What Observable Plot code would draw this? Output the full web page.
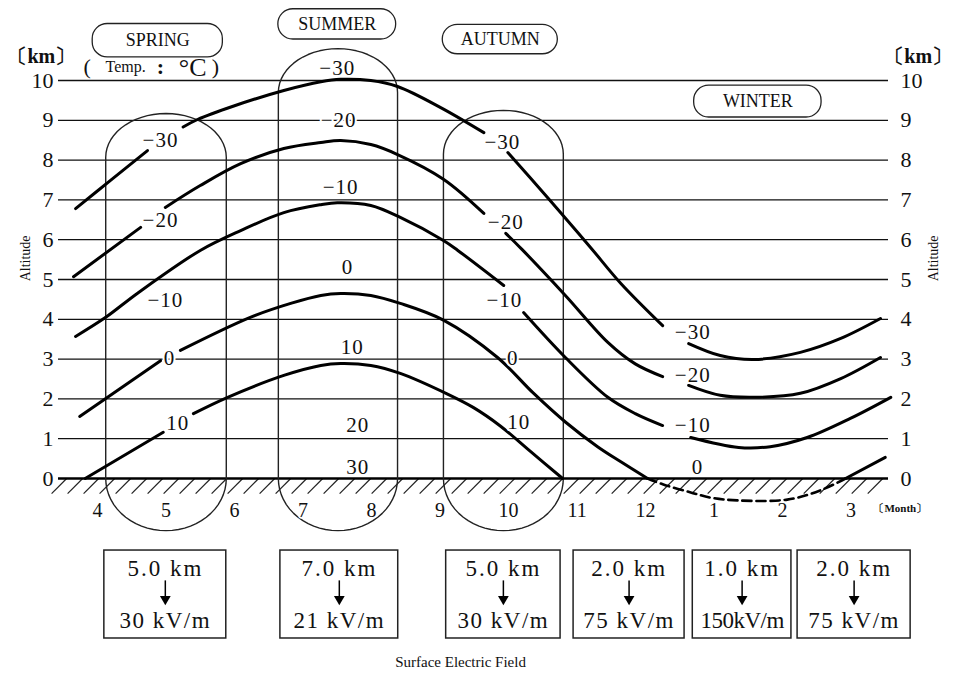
<!DOCTYPE html>
<html><head><meta charset="utf-8">
<script src="https://cdn.jsdelivr.net/npm/d3@7"></script>
<script src="https://cdn.jsdelivr.net/npm/@observablehq/plot@0.6"></script>
<style>body{margin:0;background:#fff}</style>
</head><body><div id="chart"></div>
<script>
// ---- data ----
const monthLabels = ["4","5","6","7","8","9","10","11","12","1","2","3"]; // month index 0 = April
const altitudeTicks = [0,1,2,3,4,5,6,7,8,9,10];

// isotherms: [segment, month index, altitude km]
const isoMinus30 = [
 [0,-0.32,6.78],[0,0.19,7.49],[0,0.73,8.24],
 [1,1.25,8.83],[1,1.46,9.02],[1,1.99,9.36],[1,2.72,9.75],[1,3.26,9.97],[1,3.55,10.03],[1,3.99,10.0],[1,4.38,9.85],[1,5.01,9.32],[1,5.64,8.69],
 [2,5.99,8.19],[2,6.32,7.55],[2,6.8,6.6],[2,7.2,5.8],[2,7.64,4.9],[2,8.25,3.84],
 [3,8.63,3.39],[3,9.09,3.09],[3,9.58,2.99],[3,10.26,3.17],[3,10.85,3.52],[3,11.43,4.02]
];
const isoMinus20 = [
 [0,-0.35,5.07],[0,0.63,6.31],
 [1,0.99,6.81],[1,1.5,7.36],[1,2.09,7.91],[1,2.72,8.29],[1,3.26,8.44],[1,3.55,8.49],[1,3.99,8.39],[1,4.38,8.14],[1,5.05,7.52],[1,5.64,6.66],
 [2,5.96,6.16],[2,6.2,5.75],[2,6.83,4.6],[2,7.45,3.42],[2,7.85,2.88],[2,8.25,2.56],
 [3,8.63,2.34],[3,9.09,2.09],[3,9.58,2.04],[3,10.26,2.14],[3,10.85,2.51],[3,11.43,3.04]
];
const isoMinus10 = [
 [0,-0.32,3.57],[0,0.12,4.05],[0,0.58,4.65],[0,1.5,5.73],[0,2.09,6.23],[0,2.72,6.68],[0,3.26,6.88],[0,3.5,6.93],[0,3.99,6.86],[0,4.42,6.56],[0,5.05,5.98],[0,5.26,5.73],[0,5.93,4.85],
 [1,6.22,4.17],[1,6.83,3.04],[1,7.45,2.04],[1,7.85,1.63],[1,8.25,1.33],
 [2,8.66,1.03],[2,9.36,0.78],[2,9.82,0.8],[2,10.36,1.03],[2,10.99,1.51],[2,11.58,2.04]
];
const isoZero = [
 [0,-0.26,1.56],[0,0.92,2.96],
 [1,1.21,3.22],[1,2.23,4.05],[1,2.82,4.4],[1,3.26,4.6],[1,3.55,4.65],[1,3.99,4.6],[1,4.42,4.4],[1,5.05,3.98],[1,5.84,3.04],[1,6.36,2.15],[1,6.83,1.42],[1,7.3,0.8],[1,7.64,0.42],[1,8.03,0],
 [2,10.92,0],[2,11.5,0.53]
];
const isoZeroBelowGround = [
 [8.03,0],[8.26,-0.15],[8.66,-0.35],[8.95,-0.48],[9.34,-0.55],[10.07,-0.53],[10.55,-0.3],[10.92,0]
];
const isoPlus10 = [
 [0,-0.18,0],[0,0.96,1.16],
 [1,1.4,1.63],[1,1.9,2.04],[1,2.72,2.59],[1,3.26,2.84],[1,3.55,2.89],[1,3.99,2.84],[1,4.42,2.64],[1,5.11,2.12],[1,5.49,1.78],[1,5.88,1.32],[1,6.32,0.68],[1,6.79,0]
];

// temperature labels: [text, month index, km]
const tempLabels = [
 ["\u221230",0.92,8.49],["\u221220",0.92,6.48],["\u221210",0.99,4.47],["0",1.05,3.02],["10",1.17,1.38],
 ["\u221230",3.5,10.3],["\u221220",3.52,9.0],["\u221210",3.55,7.31],["0",3.65,5.3],["10",3.72,3.29],["20",3.8,1.33],["30",3.8,0.28],
 ["\u221230",5.91,8.44],["\u221220",5.96,6.43],["\u221210",5.94,4.47],["0",6.06,3.02],["10",6.15,1.41],
 ["\u221230",8.69,3.67],["\u221220",8.69,2.59],["\u221210",8.69,1.33],["0",8.76,0.28]
];

// seasons
const seasonNames = ["SPRING","SUMMER","AUTUMN","WINTER"];
const seasonLabelPos = [[0.88,11.0],[3.5,11.41],[5.88,11.03],[9.64,9.47]];
const seasonPillHalfWidth = [0.95,0.86,0.84,0.93];
const seasonPillHalfHeight = [0.42,0.38,0.37,0.4];
// capsule spans (month index) and top altitude (km) for spring, summer, autumn
const capsuleLeft = [0.12,2.64,5.05];
const capsuleRight = [1.88,4.38,6.8];
const capsuleTop = [9.17,10.8,9.25];

// surface electric field boxes
const boxHeights = ["5.0 km","7.0 km","5.0 km","2.0 km","1.0 km","2.0 km"];
const boxFields = ["30 kV/m","21 kV/m","30 kV/m","75 kV/m","150kV/m","75 kV/m"];
const boxLeft = [0.1,2.67,5.09,6.95,8.69,10.22];
const boxRight = [1.88,4.39,6.76,8.57,10.13,11.87];

// ---- build tables ----
const isoRows = [];
[["m30",isoMinus30],["m20",isoMinus20],["m10",isoMinus10],["z0",isoZero],["p10",isoPlus10]].forEach(([k,arr]) =>
  arr.forEach(([s,m,km]) => isoRows.push({key:k+"-"+s, m, km})));
const belowRows = isoZeroBelowGround.map(([m,km]) => ({m,km}));
const labelRows = tempLabels.map(([t,m,km]) => ({t,m,km}));

const capDepth = 1.1, bottomDepth = 1.31;
const capsuleRows = [];
capsuleLeft.forEach((l,i) => {
  const r = capsuleRight[i], cx = (l+r)/2, rx = (r-l)/2, cc = capsuleTop[i]-capDepth;
  const pts = [];
  for (let k=0;k<=30;k++){const a=Math.PI-Math.PI*k/30; pts.push({s:i,m:cx+rx*Math.cos(a),km:cc+capDepth*Math.sin(a)});}
  for (let k=0;k<=30;k++){const a=-Math.PI*k/30; pts.push({s:i,m:cx+rx*Math.cos(a),km:bottomDepth*Math.sin(a)});}
  pts.push(pts[0]);
  capsuleRows.push(...pts);
});
const pillRows = seasonNames.map((n,i)=>({n, x1:seasonLabelPos[i][0]-seasonPillHalfWidth[i], x2:seasonLabelPos[i][0]+seasonPillHalfWidth[i],
  y1:seasonLabelPos[i][1]-seasonPillHalfHeight[i], y2:seasonLabelPos[i][1]+seasonPillHalfHeight[i], m:seasonLabelPos[i][0], km:seasonLabelPos[i][1]}));
const hatch = d3.range(-0.45, 11.6, 0.2336);
const boxRows = boxHeights.map((h,i)=>({h, f:boxFields[i], x1:boxLeft[i], x2:boxRight[i], c:(boxLeft[i]+boxRight[i])/2}));
const monthRows = monthLabels.map((t,i)=>({t,i}));

const serif = "Liberation Serif, Times New Roman, serif";
const chart = Plot.plot({
  width: 953, height: 675,
  marginLeft: 58, marginRight: 65, marginTop: 80, marginBottom: 197,
  x: {domain: [-0.5693, 11.547], axis: null},
  y: {domain: [0, 10], axis: null},
  style: {fontFamily: serif, background: "white", color: "#111"},
  marks: [
    Plot.ruleY(altitudeTicks.filter(d=>d>0), {stroke: "#111", strokeWidth: 1.3}),
    Plot.link(hatch, {x1: d=>d, y1: 0, x2: d=>d-0.22, y2: -0.38, stroke: "#222", strokeWidth: 1.2}),
    Plot.ruleY([0], {stroke: "#000", strokeWidth: 2.6}),
    Plot.line(capsuleRows, {x: "m", y: "km", z: "s", stroke: "#222", strokeWidth: 1.4}),
    Plot.line(isoRows, {x: "m", y: "km", z: "key", curve: "catmull-rom", stroke: "#000", strokeWidth: 3}),
    Plot.line(belowRows, {x: "m", y: "km", curve: "catmull-rom", stroke: "#000", strokeWidth: 2.6, strokeDasharray: "9,5"}),
    Plot.text(labelRows, {x: "m", y: "km", text: "t", fontSize: 21, fontFamily: serif, fill: "#111", stroke: "white", strokeWidth: 4, paintOrder: "stroke", className: "templabel"}),
    Plot.axisY(altitudeTicks, {anchor: "left", tickSize: 0, tickPadding: 5, fontSize: 22, fontFamily: serif, label: null}),
    Plot.axisY(altitudeTicks, {anchor: "right", tickSize: 0, tickPadding: 12, fontSize: 22, fontFamily: serif, label: null}),
    Plot.text(monthRows, {x: "i", y: -0.8, text: "t", fontSize: 20, fontFamily: serif, fill: "#111", stroke: "white", strokeWidth: 3, paintOrder: "stroke"}),
    Plot.text(["\u3014Month\u3015"], {x: 11.72, y: -0.75, text: d=>d, fontSize: 11, fontFamily: serif, fontWeight: "bold"}),
    Plot.rect(pillRows, {x1: "x1", x2: "x2", y1: "y1", y2: "y2", rx: 15, fill: "white", stroke: "#222", strokeWidth: 1.3}),
    Plot.text(pillRows, {x: "m", y: "km", text: "n", fontSize: 18, fontFamily: serif}),
    Plot.text(["("], {x: -0.15, y: 10.33, text: d=>d, fontSize: 22}),
    Plot.text(["Temp."], {x: 0.41, y: 10.33, text: d=>d, fontSize: 16}),
    Plot.text([":"], {x: 0.92, y: 10.33, text: d=>d, fontSize: 22, fontWeight: "bold"}),
    Plot.text(["\u00B0C"], {x: 1.39, y: 10.33, text: d=>d, fontSize: 26}),
    Plot.text([")"], {x: 1.72, y: 10.33, text: d=>d, fontSize: 22}),
    Plot.text(["\u3014km\u3015"], {x: -0.82, y: 10.6, text: d=>d, fontSize: 20, fontWeight: "bold"}),
    Plot.text(["\u3014km\u3015"], {x: 11.98, y: 10.6, text: d=>d, fontSize: 20, fontWeight: "bold"}),
    Plot.text(["Altitude"], {x: -1.05, y: 5.53, text: d=>d, fontSize: 14, rotate: -90}),
    Plot.text(["Altitude"], {x: 12.2, y: 5.53, text: d=>d, fontSize: 14, rotate: -90}),
    Plot.rect(boxRows, {x1: "x1", x2: "x2", y1: -1.81, y2: -4.02, fill: "none", stroke: "#222", strokeWidth: 1.5}),
    Plot.text(boxRows, {x: "c", y: -2.26, text: "h", fontSize: 23, fontFamily: serif, className: "boxtop"}),
    Plot.text(boxRows, {x: "c", y: -3.57, text: "f", fontSize: 23, fontFamily: serif, className: "boxbottom"}),
    Plot.link(boxRows, {x1: "c", x2: "c", y1: -2.56, y2: -3.0, stroke: "#000", strokeWidth: 1.5}),
    Plot.dot(boxRows, {x: "c", y: -3.03, symbol: "triangle", rotate: 180, r: 4, fill: "#000", stroke: "none"}),
    Plot.text(["Surface Electric Field"], {x: 5.3, y: -4.62, text: d=>d, fontSize: 15, fontFamily: serif})
  ]
});
chart.querySelectorAll(".boxtop text").forEach(t => t.setAttribute("letter-spacing", "2"));
chart.querySelectorAll(".boxbottom text").forEach(t => t.setAttribute("letter-spacing", t.textContent.startsWith("150") ? "-0.5" : "1.5"));
chart.querySelectorAll(".templabel text").forEach(t => t.setAttribute("letter-spacing", "1"));
document.getElementById("chart").appendChild(chart);
</script>
</body></html>
